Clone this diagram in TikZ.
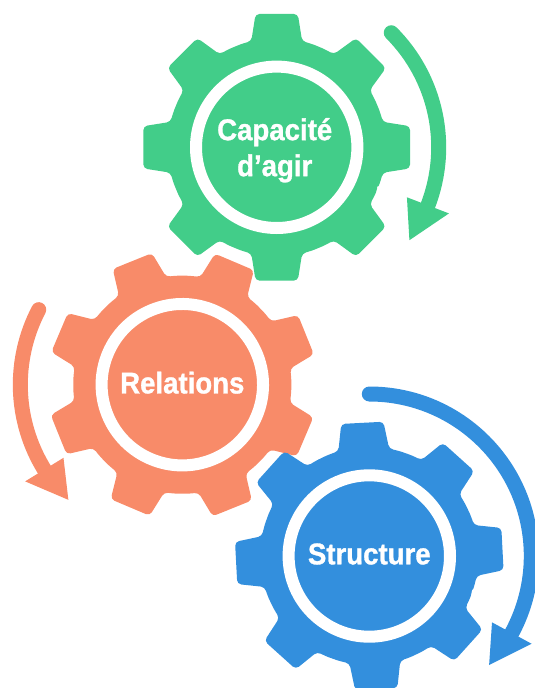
\documentclass[tikz,border=0pt]{standalone}
\usepackage{fontspec}
\setmainfont[BoldFeatures={FakeStretch=0.92,FakeBold=1}]{Liberation Sans}
\definecolor{gearGreen}{HTML}{42CD89}
\definecolor{gearOrange}{HTML}{F88B69}
\definecolor{gearBlue}{HTML}{338FDD}

\begin{document}
\begin{tikzpicture}[x=1pt,y=1pt]

      %gear outline, white ring and turning arrow
      \tikzset{
      gear/.pic={
        \fill[rounded corners=4pt] (-22.5:109)
        \foreach \a in {0,45,...,315} {
          arc[start angle=\a-22.5, end angle=\a-13.5, radius=109]
          -- (\a-9:135) -- (\a+9:135) -- (\a+13.5:109)
          arc[start angle=\a+13.5, end angle=\a+22.5, radius=109]
        } -- cycle;
        \draw[white, line width=12pt] (0,0) circle (80.7);
      },
      turn/.pic={
        \draw[line width=15pt, line cap=round] (\turnfrom:162) arc[start angle=\turnfrom, end angle=\turnto, radius=162];
        \fill (\turnto:184.5) -- (\turntip:162) -- (\turnto:139.5) -- cycle;
      },
      geartext/.style={white, align=center, font=\bfseries\fontsize{30}{36}\selectfont},
      }

      \useasboundingbox (0,0) rectangle (535,-688);

      %gear#1
      \coordinate (centerA) at (276.7,-147.3);
      \pic[color=gearGreen] at (centerA) {gear};
      \def\turnfrom{45} \def\turnto{-21} \def\turntip{-35}
      \pic[color=gearGreen] at (centerA) {turn};
      \node[geartext, xshift=-2pt, yshift=-3pt] (capacite) at (centerA) {Capacité\\d’agir};

      %gear#2
      \coordinate (centerB) at (182.3,-384.7);
      \pic[color=gearOrange, rotate=22] at (centerB) {gear};
      \def\turnfrom{152.4} \def\turnto{211.6} \def\turntip{225.3}
      \pic[color=gearOrange] at (centerB) {turn};
      \node[geartext, yshift=2pt] (relations) at (centerB) {Relations};

      %gear#3
      \coordinate (centerC) at (369.3,-556);
      \pic[color=gearBlue, rotate=3] at (centerC) {gear};
      \def\turnfrom{90} \def\turnto{-28.4} \def\turntip{-42.3}
      \pic[color=gearBlue] at (centerC) {turn};
      \node[geartext, yshift=2pt] (structure) at (centerC) {Structure};

\end{tikzpicture}
\end{document}
